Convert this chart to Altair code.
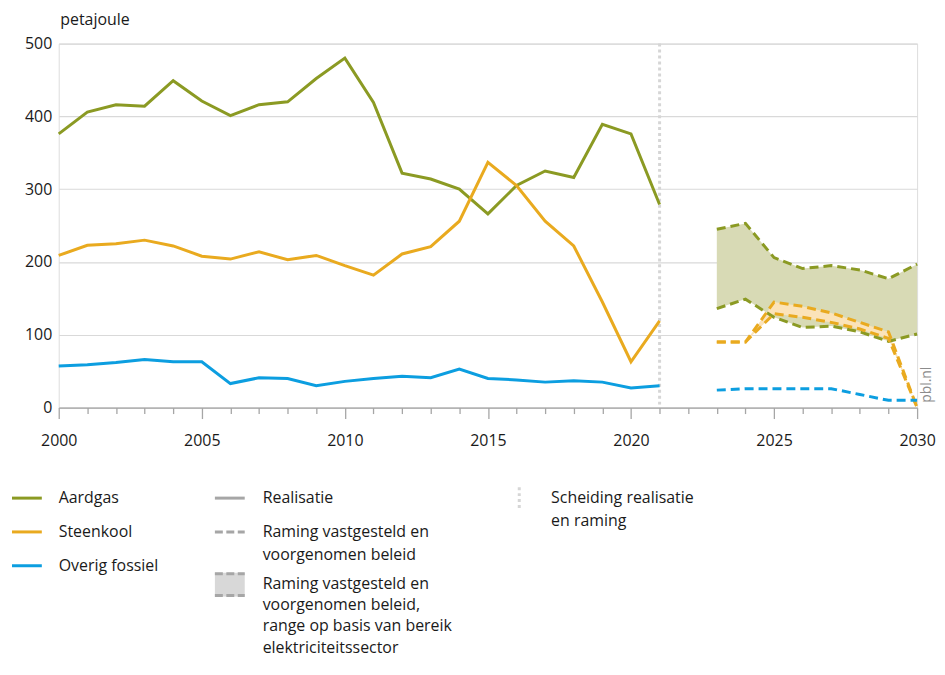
import altair as alt
import pandas as pd

# ---------------- data ----------------
series_names = ["Aardgas", "Steenkool", "Overig fossiel"]
series_colors = ["#8b9a23", "#e9aa1f", "#0c9ee0"]
band_fills = ["#d8dab5", "#fbe3b9"]

years_hist = list(range(2000, 2022))
aardgas_hist = [376, 406, 416, 414, 449, 421, 401, 416, 420, 452, 480, 419,
                322, 314, 300, 266, 305, 325, 316, 389, 376, 279]
steenkool_hist = [209, 223, 225, 230, 222, 208, 204, 214, 203, 209, 195, 182,
                  211, 221, 256, 337, 305, 256, 222, 145, 63, 119]
overig_hist = [57, 59, 62, 66, 63, 63, 33, 41, 40, 30, 36, 40,
               43, 41, 53, 40, 38, 35, 37, 35, 27, 30]

years_proj = list(range(2023, 2031))
aardgas_upper = [245, 253, 206, 191, 195, 189, 177, 197]
aardgas_lower = [136, 149, 124, 110, 112, 104, 91, 101]
steenkool_upper = [90, 90, 145, 139, 130, 117, 104, 0]
steenkool_lower = [90, 90, 129, 124, 117, 108, 95, 0]
overig_proj = [24, 26, 26, 26, 26, 18, 10, 10]

separator_year = [2021]
y_ticks = [0, 100, 200, 300, 400, 500]
x_ticks = list(range(2000, 2031))

# ---------------- tables ----------------
hist_df = pd.DataFrame({
    "year": years_hist * 3,
    "value": aardgas_hist + steenkool_hist + overig_hist,
    "series": ["Aardgas"] * 22 + ["Steenkool"] * 22 + ["Overig fossiel"] * 22,
})

n = len(years_proj)
proj_df = pd.DataFrame({
    "year": years_proj * 5,
    "value": aardgas_upper + aardgas_lower + steenkool_upper + steenkool_lower + overig_proj,
    "series": ["Aardgas"] * (2 * n) + ["Steenkool"] * (2 * n) + ["Overig fossiel"] * n,
    "line": ["gu"] * n + ["gl"] * n + ["su"] * n + ["sl"] * n + ["o"] * n,
})

band_df = pd.DataFrame({
    "year": years_proj * 2,
    "lower": aardgas_lower + steenkool_lower,
    "upper": aardgas_upper + steenkool_upper,
    "series": ["Aardgas"] * n + ["Steenkool"] * n,
})

sep_df = pd.DataFrame({"year": separator_year})
one = pd.DataFrame({"k": [0]})

FONT = "Open Sans"
TXT = "#1a1a1a"
GRAY = "#a6a6a6"

xscale = alt.Scale(domain=[2000, 2030], nice=False, zero=False)
yscale = alt.Scale(domain=[0, 500], nice=False)

xaxis = alt.Axis(
    values=x_ticks, title=None, grid=False,
    labelExpr="datum.value % 5 == 0 ? format(datum.value, 'd') : ''",
    tickSize={"condition": {"test": "datum.value % 5 == 0", "value": 11}, "value": 6},
    labelPadding=14, labelBaseline="top", labelFlush=False,
    labelFont=FONT, labelFontSize=16, labelColor=TXT,
    domainColor=GRAY, tickColor=GRAY, domainWidth=1.3, tickWidth=1.3,
)
yaxis = alt.Axis(
    values=y_ticks, grid=True, gridColor="#d9d9d9", gridWidth=1.2,
    ticks=False, domain=False, labelPadding=7,
    labelFont=FONT, labelFontSize=16, labelColor=TXT,
    title="petajoule", titleAngle=0, titleAlign="left", titleBaseline="alphabetic",
    titleX=1, titleY=-19, titleFont=FONT, titleFontSize=16,
    titleFontWeight="normal", titleColor=TXT,
)

X = alt.X("year:Q", scale=xscale, axis=xaxis)
Y = alt.Y("value:Q", scale=yscale, axis=yaxis)
stroke_scale = alt.Scale(domain=series_names, range=series_colors)
fill_scale = alt.Scale(domain=series_names[:2], range=band_fills)

sep_rule = alt.Chart(sep_df).mark_rule(
    color="#d6d6d6", strokeWidth=3, strokeDash=[3, 3]
).encode(x=X, y=alt.value(0), y2=alt.value(366))

def band(name):
    return alt.Chart(band_df).transform_filter(
        alt.datum.series == name
    ).mark_area(opacity=1).encode(
        x=X,
        y=alt.Y("lower:Q", scale=yscale, axis=yaxis),
        y2="upper:Q",
        fill=alt.Fill("series:N", scale=fill_scale, legend=None),
    )

def dashed(name):
    return alt.Chart(proj_df).transform_filter(
        alt.datum.series == name
    ).mark_line(strokeWidth=3, strokeDash=[9, 5]).encode(
        x=X, y=Y,
        stroke=alt.Stroke("series:N", scale=stroke_scale, legend=None),
        detail="line:N",
    )

hist_lines = alt.Chart(hist_df).mark_line(strokeWidth=3).encode(
    x=X, y=Y,
    stroke=alt.Stroke("series:N", scale=stroke_scale, legend=None),
)

# ---------------- legend ----------------
def leg_rule(x1, x2, y, color, dash=None, width=3):
    kw = dict(color=color, strokeWidth=width)
    if dash is not None:
        kw["strokeDash"] = dash
    return alt.Chart(one).mark_rule(**kw).encode(
        x=alt.value(x1), x2=alt.value(x2), y=alt.value(y))

def leg_vrule(x, y1, y2, color, dash):
    return alt.Chart(one).mark_rule(color=color, strokeWidth=3, strokeDash=dash).encode(
        x=alt.value(x), y=alt.value(y1), y2=alt.value(y2))

def leg_text(x, y, text, lh=23):
    return alt.Chart(one).mark_text(
        text=text, align="left", baseline="alphabetic", font=FONT,
        fontSize=16, color=TXT, lineHeight=lh,
    ).encode(x=alt.value(x), y=alt.value(y))

legend_layers = [
    leg_rule(-47, -17, 457, series_colors[0]),
    leg_text(0, 462, "Aardgas"),
    leg_rule(-47, -17, 491, series_colors[1]),
    leg_text(0, 496, "Steenkool"),
    leg_rule(-47, -17, 525, series_colors[2]),
    leg_text(0, 530, "Overig fossiel"),
    leg_rule(157, 187, 457, GRAY),
    leg_text(205, 462, "Realisatie"),
    leg_rule(157, 187, 491, GRAY, dash=[8, 3.5]),
    leg_text(205, 496, ["Raming vastgesteld en", "voorgenomen beleid"], lh=23),
    alt.Chart(one).mark_rect(color="#d8d8d8").encode(
        x=alt.value(157), x2=alt.value(187), y=alt.value(532), y2=alt.value(556)),
    leg_rule(157, 187, 533, GRAY, dash=[8, 3.5]),
    leg_rule(157, 187, 555, GRAY, dash=[8, 3.5]),
    leg_text(205, 548, ["Raming vastgesteld en", "voorgenomen beleid,",
                        "range op basis van bereik", "elektriciteitssector"], lh=21.5),
    leg_vrule(463, 446, 467, "#d6d6d6", [3, 3]),
    leg_text(495, 462, ["Scheiding realisatie", "en raming"], lh=23),
    alt.Chart(one).mark_text(
        text="pbl.nl", angle=270, align="center", baseline="alphabetic",
        font=FONT, fontSize=14, color="#8c8c8c",
    ).encode(x=alt.value(877), y=alt.value(343)),
]

chart = alt.layer(
    sep_rule,
    band("Aardgas"),
    band("Steenkool"),
    dashed("Aardgas"),
    dashed("Steenkool"),
    dashed("Overig fossiel"),
    hist_lines,
    *legend_layers,
).properties(
    width=863, height=366,
    padding={"left": 51, "top": 34, "right": 20, "bottom": 251},
    autosize=alt.AutoSizeParams(type="none"),
).configure_view(stroke=None).configure(background="white")

chart.save("out.html", embed_options={"renderer": "svg", "actions": False})
